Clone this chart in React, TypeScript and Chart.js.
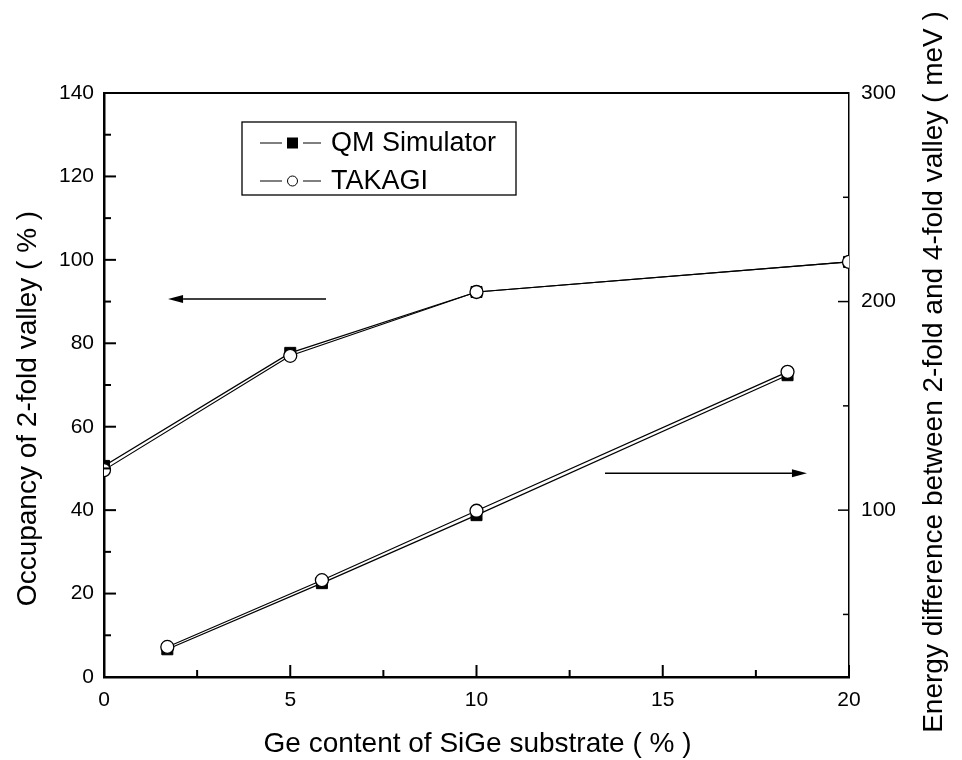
import React, { useEffect, useRef } from "react";
import { Chart, registerables } from "chart.js";

Chart.register(...registerables);

// ---- data ----
const xOccupancy = [0, 5, 10, 20];
const qmOccupancy = [50.6, 77.7, 92.3, 99.5];
const takagiOccupancy = [49.6, 77.0, 92.3, 99.5];

const xEnergy = [1.7, 5.85, 10, 18.35];
const qmEnergy = [33.3, 65.0, 97.6, 164.7];
const takagiEnergy = [34.4, 66.4, 99.7, 166.3];

const xMajorTicks = [0, 5, 10, 15, 20];
const xMinorTicks = [2.5, 7.5, 12.5, 17.5];
const leftMajorTicks = [0, 20, 40, 60, 80, 100, 120, 140];
const leftMinorTicks = [10, 30, 50, 70, 90, 110, 130];
const rightMajorTicks = [100, 200, 300];
const rightMinorTicks = [50, 150, 250];

const legendLabels = ["QM Simulator", "TAKAGI"];
const xTitle = "Ge content of SiGe substrate ( % )";
const leftTitle = "Occupancy of 2-fold valley ( % )";
const rightTitle = "Energy difference between 2-fold and 4-fold valley ( meV )";

// arrows: [xFrom, xTo, yValue]
const leftArrow = [5.96, 1.72, 90.6];
const rightArrow = [13.45, 18.87, 117.7];

const FONT = "'Liberation Sans', Arial, sans-serif";

const decorPlugin = {
  id: "decor",
  afterDraw(chart: any) {
    const { ctx, chartArea: a, scales } = chart;
    const sx = scales.x;
    const sy = scales.y;
    const sy2 = scales.y2;
    ctx.save();
    ctx.strokeStyle = "#000";
    ctx.fillStyle = "#000";
    ctx.lineCap = "butt";

    const seg = (x1: number, y1: number, x2: number, y2: number, w: number) => {
      ctx.lineWidth = w;
      ctx.beginPath();
      ctx.moveTo(x1, y1);
      ctx.lineTo(x2, y2);
      ctx.stroke();
    };

    // top border
    seg(a.left - 1, a.top, a.right, a.top, 2);

    // inward ticks
    xMajorTicks.forEach((v) => {
      const p = sx.getPixelForValue(v);
      seg(p, a.bottom, p, a.bottom - 12, 2);
    });
    xMinorTicks.forEach((v) => {
      const p = sx.getPixelForValue(v);
      seg(p, a.bottom, p, a.bottom - 7, 2);
    });
    leftMajorTicks.forEach((v) => {
      const p = sy.getPixelForValue(v);
      seg(a.left, p, a.left + 12, p, 2);
    });
    leftMinorTicks.forEach((v) => {
      const p = sy.getPixelForValue(v);
      seg(a.left, p, a.left + 7, p, 2);
    });
    rightMajorTicks.forEach((v) => {
      const p = sy2.getPixelForValue(v);
      seg(a.right, p, a.right - 11, p, 1.5);
    });
    rightMinorTicks.forEach((v) => {
      const p = sy2.getPixelForValue(v);
      seg(a.right, p, a.right - 6, p, 1.5);
    });

    // arrows
    const arrow = (xFrom: number, xTo: number, yPx: number) => {
      const dir = Math.sign(xTo - xFrom);
      const headLen = 15;
      seg(xFrom, yPx, xTo - dir * headLen, yPx, 1.5);
      ctx.beginPath();
      ctx.moveTo(xTo, yPx);
      ctx.lineTo(xTo - dir * headLen, yPx - 4);
      ctx.lineTo(xTo - dir * headLen, yPx + 4);
      ctx.closePath();
      ctx.fill();
    };
    arrow(
      sx.getPixelForValue(leftArrow[0]),
      sx.getPixelForValue(leftArrow[1]),
      sy.getPixelForValue(leftArrow[2])
    );
    arrow(
      sx.getPixelForValue(rightArrow[0]),
      sx.getPixelForValue(rightArrow[1]),
      sy2.getPixelForValue(rightArrow[2])
    );

    // titles
    ctx.font = `28px ${FONT}`;
    ctx.textBaseline = "alphabetic";
    ctx.textAlign = "center";
    ctx.fillText(xTitle, 477.5, 752);

    ctx.save();
    ctx.translate(36, 408.5);
    ctx.rotate(-Math.PI / 2);
    ctx.fillText(leftTitle, 0, 0);
    ctx.restore();

    ctx.save();
    ctx.translate(942, 372);
    ctx.rotate(-Math.PI / 2);
    ctx.fillText(rightTitle, 0, 0);
    ctx.restore();

    // legend
    const bx = 242;
    const by = 122;
    const bw = 274;
    const bh = 73;
    ctx.fillStyle = "#fff";
    ctx.fillRect(bx, by, bw, bh);
    ctx.lineWidth = 1.3;
    ctx.strokeStyle = "#000";
    ctx.strokeRect(bx, by, bw, bh);
    const rows = [143, 181];
    rows.forEach((ry, i) => {
      seg(260, ry, 282, ry, 1);
      seg(303, ry, 321, ry, 1);
      if (i === 0) {
        ctx.fillStyle = "#000";
        ctx.fillRect(287, ry - 5.5, 11, 11);
      } else {
        ctx.fillStyle = "#fff";
        ctx.beginPath();
        ctx.arc(292.5, ry, 5, 0, Math.PI * 2);
        ctx.fill();
        ctx.lineWidth = 1;
        ctx.stroke();
      }
      ctx.fillStyle = "#000";
      ctx.font = `27px ${FONT}`;
      ctx.textAlign = "left";
      ctx.textBaseline = "middle";
      ctx.fillText(legendLabels[i], 331, ry + 1);
    });

    ctx.restore();
  },
};

export default function App() {
  const ref = useRef<HTMLCanvasElement | null>(null);

  useEffect(() => {
    if (!ref.current) return;
    const toPts = (xs: number[], ys: number[]) => xs.map((x, i) => ({ x, y: ys[i] }));
    const lineCommon = {
      borderColor: "#000",
      borderWidth: 1.2,
      tension: 0,
      clip: 0,
      showLine: true,
    };
    const qmPoint = {
      pointStyle: "rect",
      pointRadius: 7.8,
      pointBackgroundColor: "#000",
      pointBorderColor: "#000",
      pointBorderWidth: 1,
    };
    const tkPoint = {
      pointStyle: "circle",
      pointRadius: 6.5,
      pointBackgroundColor: "#fff",
      pointBorderColor: "#000",
      pointBorderWidth: 1.3,
    };

    const chart = new Chart(ref.current, {
      type: "line",
      data: {
        datasets: [
          {
            label: "TAKAGI",
            data: toPts(xOccupancy, takagiOccupancy),
            yAxisID: "y",
            order: 0,
            ...lineCommon,
            ...tkPoint,
          },
          {
            label: "QM Simulator",
            data: toPts(xOccupancy, qmOccupancy),
            yAxisID: "y",
            order: 1,
            ...lineCommon,
            ...qmPoint,
          },
          {
            label: "TAKAGI",
            data: toPts(xEnergy, takagiEnergy),
            yAxisID: "y2",
            order: 0,
            ...lineCommon,
            ...tkPoint,
          },
          {
            label: "QM Simulator",
            data: toPts(xEnergy, qmEnergy),
            yAxisID: "y2",
            order: 1,
            ...lineCommon,
            ...qmPoint,
          },
        ] as any,
      },
      options: {
        animation: false,
        responsive: false,
        devicePixelRatio: 1,
        layout: { padding: { top: 93, left: 0, right: 0, bottom: 0 } },
        plugins: {
          legend: { display: false },
          tooltip: { enabled: false },
        },
        events: [],
        scales: {
          x: {
            type: "linear",
            position: "bottom",
            min: 0,
            max: 20,
            grid: { display: false, drawTicks: false },
            border: { display: true, color: "#000", width: 2.5 },
            afterBuildTicks: (s: any) => {
              s.ticks = xMajorTicks.map((v) => ({ value: v }));
            },
            afterFit: (s: any) => {
              s.height = 83;
            },
            ticks: {
              color: "#000",
              font: { family: FONT, size: 21 },
              padding: 11,
              maxRotation: 0,
              autoSkip: false,
            },
          },
          y: {
            type: "linear",
            position: "left",
            min: 0,
            max: 140,
            grid: { display: false, drawTicks: false },
            border: { display: true, color: "#000", width: 2.5 },
            afterBuildTicks: (s: any) => {
              s.ticks = leftMajorTicks.map((v) => ({ value: v }));
            },
            afterFit: (s: any) => {
              s.width = 104;
            },
            ticks: {
              color: "#000",
              font: { family: FONT, size: 21 },
              padding: 10,
              autoSkip: false,
            },
          },
          y2: {
            type: "linear",
            position: "right",
            min: 20,
            max: 300,
            grid: { display: false, drawTicks: false },
            border: { display: true, color: "#000", width: 1.5 },
            afterBuildTicks: (s: any) => {
              s.ticks = rightMajorTicks.map((v) => ({ value: v }));
            },
            afterFit: (s: any) => {
              s.width = 113;
            },
            ticks: {
              color: "#000",
              font: { family: FONT, size: 21 },
              padding: 12,
              autoSkip: false,
            },
          },
        },
      } as any,
      plugins: [decorPlugin],
    });
    return () => chart.destroy();
  }, []);

  return (
    <div
      style={{
        position: "absolute",
        left: 0,
        top: 0,
        width: 962,
        height: 760,
        background: "#fff",
      }}
    >
      <canvas ref={ref} width={962} height={760} style={{ display: "block" }} />
    </div>
  );
}
